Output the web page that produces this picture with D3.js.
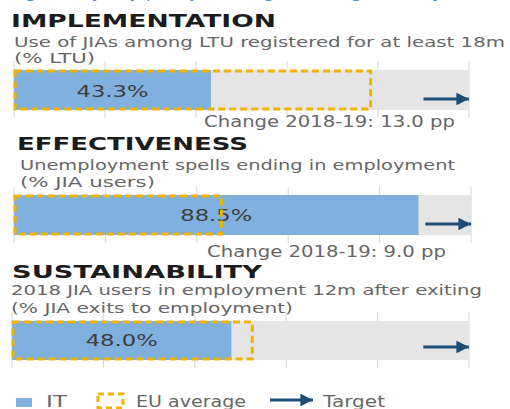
<!DOCTYPE html>
<html>
<head>
<meta charset="utf-8">
<script src="https://cdn.jsdelivr.net/npm/d3@7"></script>
<style>
  html, body { margin: 0; padding: 0; background: #ffffff; }
  svg { display: block; }
  text { font-family: "DejaVu Sans", Verdana, sans-serif; }
</style>
</head>
<body>
<svg id="chart" width="510" height="409"></svg>
<script>
// ---- data ----
const categories = ["IMPLEMENTATION", "EFFECTIVENESS", "SUSTAINABILITY"];
const subtitles1 = [
  "Use of JIAs among LTU registered for at least 18m",
  "Unemployment spells ending in employment",
  "2018 JIA users in employment 12m after exiting"
];
const subtitles2 = ["(% LTU)", "(% JIA users)", "(% JIA exits to employment)"];
const itValues = [43.3, 88.5, 48.0];
const euValues = [78.6, 45.6, 52.8];
const targetFrom = [90, 90, 90];
const targetTo = [100, 100, 100];
const changeLabels = ["Change 2018-19: 13.0 pp", "Change 2018-19: 9.0 pp", null];
const gridTicks = [0, 20, 40, 60, 80, 100];
const legendLabels = ["IT", "EU average", "Target"];

// ---- layout (positions only) ----
const layout = [
  { x0: 14, x1: 469, titleX: 11, titleY: 27, titleW: 265, subX: 14, sub1Y: 47, sub1W: 491, sub2Y: 63, sub2W: 81,
    gridTop: 61, gridBot: 118, barY: 70, barH: 40, labelY: 97, arrowY: 99, changeX: 204, changeY: 127, changeW: 251 },
  { x0: 14, x1: 471, titleX: 17, titleY: 150, titleW: 231, subX: 20, sub1Y: 170, sub1W: 435, sub2Y: 187, sub2W: 135,
    gridTop: 187, gridBot: 243, barY: 195, barH: 40, labelY: 221, arrowY: 224, changeX: 207, changeY: 257, changeW: 239 },
  { x0: 12, x1: 469, titleX: 12, titleY: 278, titleW: 250, subX: 11, sub1Y: 295, sub1W: 471, sub2Y: 313, sub2W: 282,
    gridTop: 312, gridBot: 368, barY: 321, barH: 39, labelY: 346, arrowY: 347, changeX: 0, changeY: 0, changeW: 0 }
];
const valueLabelW = 72;

const COLORS = {
  it: "#7fb0de", bg: "#e5e5e5", grid: "#d6d6d6", eu: "#f0b400",
  arrow: "#1f4e79", title: "#1c1c1c", sub: "#666666", value: "#3d3d3d"
};

const svg = d3.select("#chart");

// arrow marker
const defs = svg.append("defs");
defs.append("marker")
  .attr("id", "ah").attr("viewBox", "0 0 10 10")
  .attr("refX", 10).attr("refY", 5)
  .attr("markerWidth", 4.2).attr("markerHeight", 4.2)
  .attr("markerUnits", "strokeWidth")
  .attr("orient", "auto")
  .append("path").attr("d", "M0,0 L10,5 L0,10 Z").attr("fill", COLORS.arrow);

// partially visible heading at very top (cut off)
svg.append("text")
  .attr("x", -4).attr("y", -3)
  .attr("textLength", 454).attr("lengthAdjust", "spacingAndGlyphs")
  .attr("font-size", 17).attr("fill", "#4a90d9")
  .text("Progress by key policy area against targets (Italy)");

categories.forEach((cat, i) => {
  const L = layout[i];
  const x = d3.scaleLinear().domain([0, 100]).range([L.x0, L.x1]);
  const g = svg.append("g");

  g.append("text")
    .attr("x", L.titleX).attr("y", L.titleY)
    .attr("textLength", L.titleW).attr("lengthAdjust", "spacingAndGlyphs")
    .attr("font-size", 18).attr("font-weight", "bold").attr("fill", COLORS.title)
    .text(cat);

  g.append("text")
    .attr("x", L.subX).attr("y", L.sub1Y)
    .attr("textLength", L.sub1W).attr("lengthAdjust", "spacingAndGlyphs")
    .attr("font-size", 14.5).attr("fill", COLORS.sub)
    .text(subtitles1[i]);

  g.append("text")
    .attr("x", L.subX).attr("y", L.sub2Y)
    .attr("textLength", L.sub2W).attr("lengthAdjust", "spacingAndGlyphs")
    .attr("font-size", 14.5).attr("fill", COLORS.sub)
    .text(subtitles2[i]);

  // gridlines
  g.selectAll("line.grid").data(gridTicks).join("line")
    .attr("class", "grid")
    .attr("x1", d => x(d)).attr("x2", d => x(d))
    .attr("y1", L.gridTop).attr("y2", L.gridBot)
    .attr("stroke", COLORS.grid).attr("stroke-width", 1);

  // background
  g.append("rect")
    .attr("x", x(0)).attr("y", L.barY)
    .attr("width", x(100) - x(0)).attr("height", L.barH)
    .attr("fill", COLORS.bg);

  // IT bar
  g.append("rect")
    .attr("x", x(0)).attr("y", L.barY)
    .attr("width", x(itValues[i]) - x(0)).attr("height", L.barH)
    .attr("fill", COLORS.it);

  // value label
  g.append("text")
    .attr("x", (x(0) + x(itValues[i])) / 2 - valueLabelW / 2).attr("y", L.labelY)
    .attr("textLength", valueLabelW).attr("lengthAdjust", "spacingAndGlyphs")
    .attr("font-size", 15).attr("fill", COLORS.value)
    .text(itValues[i].toFixed(1) + "%");

  // EU average dashed box
  g.append("rect")
    .attr("x", x(0) + 1).attr("y", L.barY + 1)
    .attr("width", x(euValues[i]) - x(0) - 2).attr("height", L.barH - 2)
    .attr("fill", "none")
    .attr("stroke", COLORS.eu).attr("stroke-width", 3)
    .attr("stroke-dasharray", "7,4");

  // target arrow
  g.append("line")
    .attr("x1", x(targetFrom[i])).attr("x2", x(targetTo[i]))
    .attr("y1", L.arrowY).attr("y2", L.arrowY)
    .attr("stroke", COLORS.arrow).attr("stroke-width", 3)
    .attr("marker-end", "url(#ah)");

  if (changeLabels[i]) {
    g.append("text")
      .attr("x", L.changeX).attr("y", L.changeY)
      .attr("textLength", L.changeW).attr("lengthAdjust", "spacingAndGlyphs")
      .attr("font-size", 15).attr("fill", COLORS.sub)
      .text(changeLabels[i]);
  }
});

// legend
const lg = svg.append("g");
lg.append("rect").attr("x", 16).attr("y", 398).attr("width", 16).attr("height", 9).attr("fill", COLORS.it);
lg.append("text").attr("x", 46).attr("y", 407)
  .attr("textLength", 21).attr("lengthAdjust", "spacingAndGlyphs")
  .attr("font-size", 15).attr("fill", COLORS.sub).text(legendLabels[0]);
lg.append("rect").attr("x", 98).attr("y", 394).attr("width", 25).attr("height", 14)
  .attr("fill", "none").attr("stroke", COLORS.eu).attr("stroke-width", 3).attr("stroke-dasharray", "6,4");
lg.append("text").attr("x", 136).attr("y", 407)
  .attr("textLength", 110).attr("lengthAdjust", "spacingAndGlyphs")
  .attr("font-size", 15).attr("fill", COLORS.sub).text(legendLabels[1]);
lg.append("line").attr("x1", 270).attr("x2", 313).attr("y1", 400).attr("y2", 400)
  .attr("stroke", COLORS.arrow).attr("stroke-width", 3).attr("marker-end", "url(#ah)");
lg.append("text").attr("x", 323).attr("y", 407)
  .attr("textLength", 62).attr("lengthAdjust", "spacingAndGlyphs")
  .attr("font-size", 15).attr("fill", COLORS.sub).text(legendLabels[2]);
</script>
</body>
</html>
